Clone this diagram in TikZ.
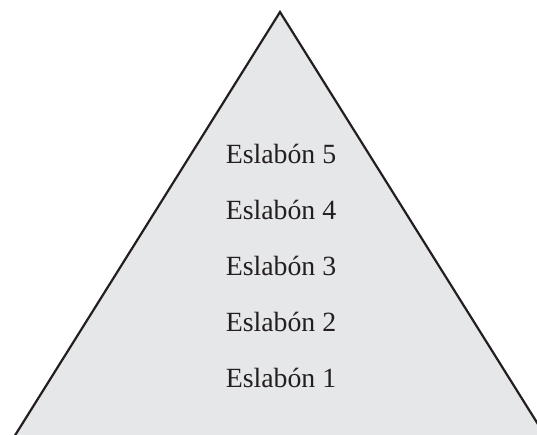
\documentclass[tikz,border=0pt]{standalone}
\usepackage{fontspec}
\setmainfont{Liberation Serif}
\definecolor{pyrfill}{HTML}{E6E7E9}
\definecolor{pyrline}{HTML}{231F20}
\begin{document}
\begin{tikzpicture}[x=1pt,y=-1pt,
  lvl/.style={font=\fontsize{27.8}{30}\selectfont, text=pyrline, anchor=center}]
\useasboundingbox (0,0) rectangle (537,434);
\clip (0,0) rectangle (537,434);
\coordinate (apex) at (280,12);
\coordinate (bl) at (14,437);
\coordinate (br) at (546,437);
\filldraw[fill=pyrfill, draw=pyrline, line width=2.2pt, line join=miter] (bl) -- (apex) -- (br);
\node[lvl] (e5) at (281,154) {Eslabón 5};
\node[lvl] (e4) at (281,210) {Eslabón 4};
\node[lvl] (e3) at (281,266) {Eslabón 3};
\node[lvl] (e2) at (281,322) {Eslabón 2};
\node[lvl] (e1) at (281,378) {Eslabón 1};
\end{tikzpicture}
\end{document}
